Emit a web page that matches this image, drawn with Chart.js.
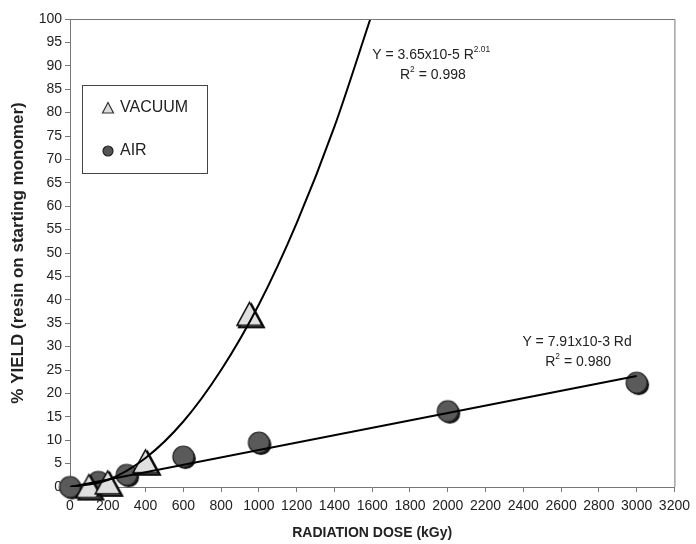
<!DOCTYPE html>
<html>
<head>
<meta charset="utf-8">
<script src="https://cdn.jsdelivr.net/npm/chart.js@4.4.0/dist/chart.umd.min.js"></script>
<style>
  html, body { margin: 0; padding: 0; background: #fff; }
  #wrap { width: 696px; height: 544px; }
</style>
</head>
<body>
<div id="wrap"><canvas id="chart"></canvas></div>
<script>
// measured yields
const vacuumDose = [100, 200, 400, 950];
const vacuumYield = [0.2, 1.0, 5.5, 37];
const airDose = [0, 150, 300, 600, 1000, 2000, 3000];
const airYield = [0, 1.1, 2.6, 6.5, 9.5, 16.2, 22.3];

// fitted curves
const vacuumFitDose = [0, 200, 400, 600, 800, 1000, 1200, 1400, 1590];
const vacuumFitYield = [0, 1.5, 6.2, 14, 25, 39, 56.4, 77, 100];
const airFitDose = [0, 3000];
const airFitYield = [0, 23.7];

// axes
const xMin = 0, xMax = 3200, xStep = 200;
const yMin = 0, yMax = 100, yStep = 5;

// fit equations: [dose, yield] anchor (left edge, middle), text parts [text, superscript?]
const fitLabels = [
    {x: 1600, y: 92.3, parts: [['Y = 3.65x10-5 R', false], ['2.01', true]]},
    {x: 1747, y: 88.0, parts: [['R', false], ['2', true], [' = 0.998', false]]},
    {x: 2395, y: 31.0, parts: [['Y = 7.91x10-3 Rd', false]]},
    {x: 2516, y: 26.7, parts: [['R', false], ['2', true], [' = 0.980', false]]}
];

const FONT = '"Liberation Sans", Arial, sans-serif';

function toPoints(xs, ys) {
    return xs.map((x, i) => ({x: x, y: ys[i]}));
}

// marker with a drop shadow, like the original
function makeCircle(r) {
    const c = document.createElement('canvas');
    const s = Math.ceil(2 * r + 8);
    c.width = s; c.height = s;
    const g = c.getContext('2d');
    const m = s / 2;
    g.fillStyle = '#151515';
    g.beginPath(); g.arc(m + 2, m + 2, r, 0, Math.PI * 2); g.fill();
    g.fillStyle = '#5a5a5a';
    g.strokeStyle = '#222';
    g.lineWidth = 1.2;
    g.beginPath(); g.arc(m, m, r, 0, Math.PI * 2); g.fill(); g.stroke();
    return c;
}

function makeTriangle(h) {
    const c = document.createElement('canvas');
    const s = Math.ceil(2 * h + 10);
    c.width = s; c.height = s;
    const g = c.getContext('2d');
    const m = s / 2;
    const path = (dx, dy) => {
        g.beginPath();
        g.moveTo(m + dx, m - h + dy);
        g.lineTo(m + h + 1 + dx, m + h + dy);
        g.lineTo(m - h - 1 + dx, m + h + dy);
        g.closePath();
    };
    g.strokeStyle = '#111';
    g.lineWidth = 2;
    path(2, 2); g.stroke();
    g.fillStyle = '#e0e0e0';
    g.strokeStyle = '#000';
    g.lineWidth = 1.5;
    path(0, 0); g.fill(); g.stroke();
    return c;
}

const circleImg = makeCircle(10.5);
const triangleImg = makeTriangle(11.5);

function drawRich(ctx, x, y, parts, size) {
    let cx = x;
    parts.forEach(([t, sup]) => {
        ctx.font = (sup ? size * 0.6 : size) + 'px ' + FONT;
        ctx.fillText(t, cx, sup ? y - size * 0.38 : y);
        cx += ctx.measureText(t).width;
    });
}

const overlayPlugin = {
    id: 'overlay',
    afterDraw(chart) {
        const ctx = chart.ctx;
        const a = chart.chartArea;
        const xs = chart.scales.x, ys = chart.scales.y;
        ctx.save();
        // top and right frame
        ctx.strokeStyle = '#777';
        ctx.lineWidth = 1;
        ctx.beginPath();
        ctx.moveTo(a.left, a.top + 0.5);
        ctx.lineTo(a.right + 0.5, a.top + 0.5);
        ctx.lineTo(a.right + 0.5, a.bottom);
        ctx.stroke();

        // fit equations
        ctx.fillStyle = '#222';
        ctx.textBaseline = 'middle';
        ctx.textAlign = 'left';
        fitLabels.forEach(l => {
            drawRich(ctx, xs.getPixelForValue(l.x), ys.getPixelForValue(l.y), l.parts, 14);
        });

        // legend box
        const bx = a.left + 12, by = a.top + 66, bw = 125, bh = 88;
        ctx.fillStyle = '#fff';
        ctx.fillRect(bx, by, bw, bh);
        ctx.strokeStyle = '#444';
        ctx.strokeRect(bx + 0.5, by + 0.5, bw, bh);
        // triangle
        const tx = bx + 26, ty = by + 23;
        ctx.beginPath();
        ctx.moveTo(tx, ty - 5.5);
        ctx.lineTo(tx + 5.5, ty + 5);
        ctx.lineTo(tx - 5.5, ty + 5);
        ctx.closePath();
        ctx.fillStyle = '#ddd';
        ctx.fill();
        ctx.strokeStyle = '#333';
        ctx.lineWidth = 1.2;
        ctx.stroke();
        // circle
        const cx = bx + 26, cy = by + 66;
        ctx.beginPath();
        ctx.arc(cx, cy, 5, 0, Math.PI * 2);
        ctx.fillStyle = '#555';
        ctx.fill();
        ctx.strokeStyle = '#222';
        ctx.stroke();
        ctx.fillStyle = '#222';
        ctx.font = '16px ' + FONT;
        ctx.fillText('VACUUM', bx + 38, ty);
        ctx.fillText('AIR', bx + 38, cy);
        ctx.restore();
    }
};

const ctx = document.getElementById('chart').getContext('2d');
const chart = new Chart(ctx, {
    type: 'scatter',
    data: {
        datasets: [{
            label: 'VACUUM fit',
            data: toPoints(vacuumFitDose, vacuumFitYield),
            showLine: true,
            borderColor: '#000',
            borderWidth: 2,
            pointRadius: 0,
            cubicInterpolationMode: 'monotone'
        }, {
            label: 'AIR fit',
            data: toPoints(airFitDose, airFitYield),
            showLine: true,
            borderColor: '#000',
            borderWidth: 2,
            pointRadius: 0
        }, {
            label: 'VACUUM',
            data: toPoints(vacuumDose, vacuumYield),
            pointStyle: triangleImg,
            pointRadius: 12,
            clip: false
        }, {
            label: 'AIR',
            data: toPoints(airDose, airYield),
            pointStyle: circleImg,
            pointRadius: 12,
            clip: false
        }]
    },
    options: {
        responsive: true,
        maintainAspectRatio: false,
        animation: false,
        events: [],
        layout: {padding: {top: 19, right: 18, left: 0, bottom: 0}},
        plugins: {
            legend: {display: false},
            tooltip: {enabled: false}
        },
        scales: {
            x: {
                type: 'linear',
                min: xMin, max: xMax,
                afterFit: s => { s.height = 57; },
                ticks: {
                    stepSize: xStep, autoSkip: false, maxRotation: 0, padding: 6,
                    callback: v => String(v),
                    color: '#222', font: {family: FONT, size: 14}
                },
                grid: {drawOnChartArea: false, tickLength: 5, color: '#777'},
                border: {color: '#777'},
                title: {
                    display: true, text: 'RADIATION DOSE (kGy)', color: '#222',
                    font: {family: FONT, size: 14, weight: 'bold'},
                    padding: {top: 0, bottom: 2}
                }
            },
            y: {
                min: yMin, max: yMax,
                afterFit: s => { s.width = 70; },
                ticks: {
                    stepSize: yStep, autoSkip: false, padding: 3,
                    callback: v => String(v),
                    color: '#222', font: {family: FONT, size: 14}
                },
                grid: {drawOnChartArea: false, tickLength: 5, color: '#777'},
                border: {color: '#777'},
                title: {
                    display: true, text: '% YIELD (resin on starting monomer)', color: '#222',
                    font: {family: FONT, size: 17, weight: 'bold'},
                    padding: {top: 8, bottom: 0}
                }
            }
        }
    },
    plugins: [overlayPlugin]
});
</script>
</body>
</html>
